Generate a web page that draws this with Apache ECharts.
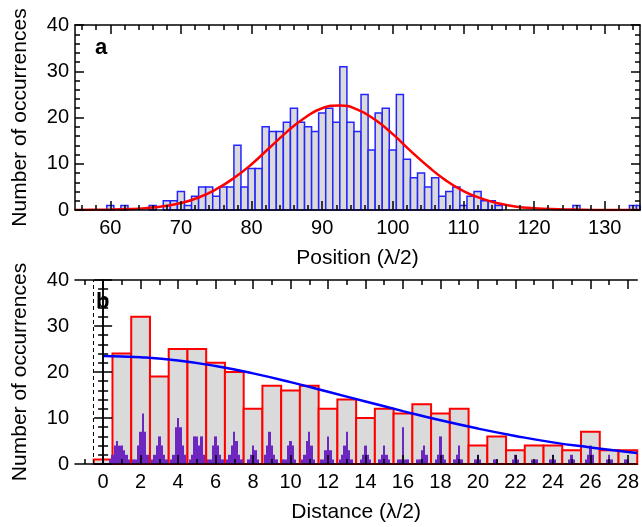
<!DOCTYPE html>
<html><head><meta charset="utf-8">
<script src="https://cdn.jsdelivr.net/npm/echarts@6/dist/echarts.min.js"></script>
<style>html,body{margin:0;padding:0;background:#fff}#c{width:642px;height:527px}</style>
</head><body><div id="c"></div>
<script>
// ---- Panel a: position histogram ----
const posBins   = [60,61,62,63,64,65,66,67,68,69,70,71,72,73,74,75,76,77,78,79,80,81,82,83,84,85,86,87,88,89,90,91,92,93,94,95,96,97,98,99,100,101,102,103,104,105,106,107,108,109,110,111,112,113,114,115,126,134,135];
const posCounts = [1,0,1,0,0,0,1,0,2,2,4,1,3,5,5,3,5,5,14,5,9,9,18,17,17,19,22,19,18,17,21,22,19,31,19,17,25,13,21,22,13,25,11,7,8,5,7,3,4,5,1,3,4,2,2,1,1,1,1];
const fitAX = [55,60,62.5,65,67.5,70,72.5,75,77.5,80,82.5,85,87.5,90,92.5,95,97.5,100,102.5,105,107.5,110,112.5,115,117.5,120,122.5,125,130,135];
const fitAY = [0,0.1,0.2,0.4,0.8,1.5,2.7,4.5,6.9,9.9,13.4,16.9,19.9,22.0,22.6,21.7,19.5,16.4,12.8,9.4,6.4,4.1,2.5,1.4,0.7,0.4,0.2,0.1,0,0];
const posMajor = [60,70,80,90,100,110,120,130];
const posMinor = [56,58,62,64,66,68,72,74,76,78,82,84,86,88,92,94,96,98,102,104,106,108,112,114,116,118,122,124,126,128,132,134];

// ---- Panel b: distance histogram ----
const distBins   = [0,1,2,3,4,5,6,7,8,9,10,11,12,13,14,15,16,17,18,19,20,21,22,23,24,25,26,27,28];
const distCounts = [1,24,32,19,25,25,22,20,12,17,16,17,12,14,10,12,11,13,11,12,4,6,3,4,4,3,7,3,3];
const fitBX = [0,2,4,6,8,10,12,14,16,18,20,22,24,26,28,28.5];
const fitBY = [23.5,23.2,22.5,21.3,19.7,17.8,15.7,13.6,11.5,9.5,7.7,6.1,4.7,3.6,2.6,2.4];
const fineX = [0.375,0.5,0.625,0.75,0.875,1.0,1.125,1.25,1.375,
  1.625,1.75,1.875,2.0,2.125,2.25,2.375,
  2.625,2.75,2.875,3.0,3.125,3.25,3.375,
  3.625,3.75,3.875,4.0,4.125,4.25,4.375,
  4.625,4.75,4.875,5.0,5.125,5.25,5.375,
  5.625,5.75,5.875,6.0,6.125,6.25,6.375,
  6.625,6.75,6.875,7.0,7.125,7.25,7.375,
  7.75,7.875,8.0,8.125,8.25,
  8.625,8.75,8.875,9.0,9.125,9.25,
  9.625,9.75,9.875,10.0,10.125,10.25,
  10.625,10.75,10.875,11.0,11.125,11.25,
  11.625,11.75,11.875,12.0,12.125,12.25,
  12.625,12.75,12.875,13.0,13.125,13.25,
  13.75,13.875,14.0,14.125,14.25,
  14.75,14.875,15.0,15.125,15.25,
  15.75,15.875,16.0,16.125,16.25,
  16.75,16.875,17.0,17.125,17.25,
  17.75,17.875,18.0,18.125,18.25,
  18.75,18.875,19.0,19.125,
  19.875,20.0,20.125,
  20.875,21.0,
  21.875,22.0,22.125,
  22.875,23.0,23.125,
  23.875,24.0,24.125,
  24.875,25.0,25.125,
  25.75,25.875,26.0,26.125,
  26.875,27.0,27.125,
  27.875,28.0];
const fineY = [1,2,4,5,4,4,3,2,1,
  1,1,4,7,11,7,2,
  1,2,4,6,4,2,1,
  1,2,8,10,8,4,2,
  1,2,6,6,4,6,2,
  1,1,4,6,4,2,1,
  1,2,4,7,5,2,1,
  1,2,4,3,1,
  2,4,7,4,2,1,
  1,1,4,5,4,1,
  1,2,5,7,4,1,
  1,1,3,6,3,1,
  1,2,4,7,3,1,
  1,2,4,2,1,
  1,2,4,2,1,
  1,1,8,1,1,
  1,1,3,4,2,
  1,2,6,2,1,
  1,2,4,1,
  1,2,1,
  1,1,
  1,2,1,
  1,1,1,
  1,2,1,
  1,2,1,
  1,2,4,2,
  1,2,1,
  1,1];
const distMajor = [0,2,4,6,8,10,12,14,16,18,20,22,24,26,28];
const distMinor = [-1,1,3,5,7,9,11,13,15,17,19,21,23,25,27];

const FONT = 'Liberation Sans';
const chart = echarts.init(document.getElementById('c'));

function histRender(width, fill, stroke, lw, snap) {
  return function (params, api) {
    const x = api.value(0), y = api.value(1);
    if (!y) return null;
    const p0 = api.coord([x - width / 2, 0]);
    const p1 = api.coord([x + width / 2, y]);
    let x0 = p0[0], x1 = p1[0];
    if (snap) { x0 = Math.round(x0); x1 = Math.round(x1); }
    const cs = params.coordSys;
    const shape = echarts.graphic.clipRectByRect(
      {x: x0, y: p1[1], width: x1 - x0, height: p0[1] - p1[1]},
      {x: cs.x, y: cs.y, width: cs.width, height: cs.height});
    if (!shape) return null;
    return {type: 'rect', shape: shape,
      style: {fill: fill, stroke: stroke, lineWidth: lw}};
  };
}

function xAxes(gridIndex, min, max, major, minor, labels, name) {
  const line = {show: true, lineStyle: {color: '#000', width: 1.5}};
  const common = {type: 'value', gridIndex: gridIndex, min: min, max: max, splitLine: {show: false}, z: 10};
  return [
    Object.assign({}, common, {position: 'bottom', axisLine: line,
      axisTick: {show: true, inside: true, length: 9, customValues: major, lineStyle: {color: '#000', width: 1.5}},
      axisLabel: {show: true, customValues: labels, fontSize: 20, color: '#000', fontFamily: FONT, margin: 8},
      name: name, nameLocation: 'middle', nameGap: 38,
      nameTextStyle: {fontSize: 21, color: '#000', fontFamily: FONT}}),
    Object.assign({}, common, {position: 'bottom', axisLine: {show: false},
      axisTick: {show: true, inside: true, length: 5, customValues: minor, lineStyle: {color: '#000', width: 1.5}},
      axisLabel: {show: false}}),
    Object.assign({}, common, {position: 'top', axisLine: line,
      axisTick: {show: true, inside: true, length: 9, customValues: major, lineStyle: {color: '#000', width: 1.5}},
      axisLabel: {show: false}}),
    Object.assign({}, common, {position: 'top', axisLine: {show: false},
      axisTick: {show: true, inside: true, length: 5, customValues: minor, lineStyle: {color: '#000', width: 1.5}},
      axisLabel: {show: false}})
  ];
}
function yAxes(gridIndex) {
  const common = {type: 'value', gridIndex: gridIndex, min: 0, max: 40, interval: 10, splitLine: {show: false}, z: 10,
    axisLine: {show: true, lineStyle: {color: '#000', width: 1.5}},
    axisTick: {show: true, inside: true, length: 9, lineStyle: {color: '#000', width: 1.5}},
    minorTick: {show: true, splitNumber: 5, length: 5, lineStyle: {color: '#000', width: 1.5}},
    minorSplitLine: {show: false}};
  return [
    Object.assign({}, common, {position: 'left',
      axisLabel: {fontSize: 20, color: '#000', fontFamily: FONT, margin: 6},
      name: 'Number of occurrences', nameLocation: 'middle', nameGap: 44, nameRotate: 90,
      nameTextStyle: {fontSize: 21, color: '#000', fontFamily: FONT}}),
    Object.assign({}, common, {position: 'right', axisLabel: {show: false}})
  ];
}

const option = {
  animation: false,
  backgroundColor: '#fff',
  grid: [
    {left: 75, top: 25, width: 565, height: 185},
    {left: 75, top: 280, width: 565, height: 184}
  ],
  xAxis: [].concat(
    xAxes(0, 55, 135, posMajor, posMinor, posMajor, 'Position (\u03bb/2)'),
    xAxes(1, -1.5, 28.5, distMajor, distMinor, distMajor, 'Distance (\u03bb/2)')),
  yAxis: [].concat(yAxes(0), yAxes(1)),
  graphic: [
    {type: 'text', left: 95, top: 37, style: {text: 'a', font: 'bold 22px ' + FONT, fill: '#000'}},
    {type: 'text', left: 96, top: 291, style: {text: 'b', font: 'bold 22px ' + FONT, fill: '#000'}}
  ],
  series: [
    {type: 'custom', xAxisIndex: 0, yAxisIndex: 0, z: 2,
      renderItem: histRender(1, '#dadada', '#2424ff', 1.5, false),
      data: posBins.map((b, i) => [b, posCounts[i]])},
    {type: 'line', xAxisIndex: 0, yAxisIndex: 0, z: 3, smooth: true, showSymbol: false,
      lineStyle: {color: '#ff0000', width: 2.5},
      data: fitAX.map((x, i) => [x, fitAY[i]])},
    {type: 'custom', xAxisIndex: 4, yAxisIndex: 2, z: 2,
      renderItem: histRender(1, '#dadada', '#ff0000', 2, false),
      data: distBins.map((b, i) => [b, distCounts[i]]),
      markLine: {silent: true, symbol: 'none', label: {show: false},
        lineStyle: {color: '#000', width: 1, type: [4, 3]},
        data: [{xAxis: -0.5}]}},
    {type: 'custom', xAxisIndex: 4, yAxisIndex: 2, z: 3,
      renderItem: histRender(0.125, '#6e26c0', null, 0, true),
      data: fineX.map((x, i) => [x, fineY[i]])},
    {type: 'line', xAxisIndex: 4, yAxisIndex: 2, z: 4, smooth: true, showSymbol: false,
      lineStyle: {color: '#0000ff', width: 2.5},
      data: fitBX.map((x, i) => [x, fitBY[i]])}
  ]
};
chart.setOption(option);
</script>
</body></html>
